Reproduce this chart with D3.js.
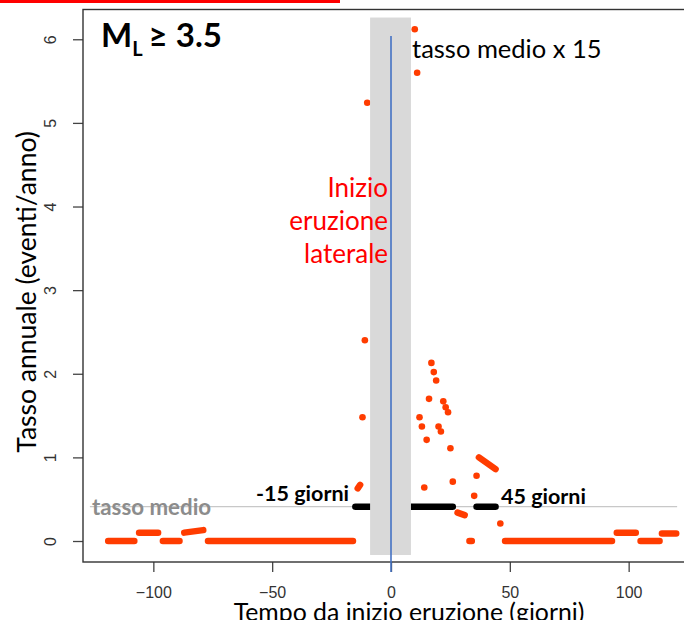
<!DOCTYPE html>
<html lang="it">
<head>
<meta charset="utf-8">
<script src="https://cdn.jsdelivr.net/npm/d3@7"></script>
<style>
  body { margin: 0; background: #fff; }
  svg { display: block; }
</style>
</head>
<body>
<script>
const W = 684, H = 620;

// red runs of daily points (start day, end day, value at start, value at end)
const runStart   = [-119, -106, -96, -87, -77, -14, 28, 33, 37, 48, 95, 105, 114];
const runEnd     = [-108,  -98, -89, -79, -16, -13, 31, 34, 44, 93, 103, 113, 120];
const runFromVal = [0, 0.10, 0, 0.10, 0, 0.63, 0.34, 0, 1.00, 0, 0.10, 0, 0.09];
const runToVal   = [0, 0.10, 0, 0.13, 0, 0.67, 0.31, 0, 0.86, 0, 0.10, 0, 0.09];

// isolated red points
const pointDay = [-12, -11, -10, 10, 11, 12, 13, 14, 15, 16, 17, 18, 19, 20, 21, 22, 23, 24, 25, 26, 35, 36, 46];
const pointVal = [1.48, 2.40, 5.24, 6.12, 5.60, 1.48, 1.37, 0.64, 1.21, 1.70, 2.13, 2.02, 1.92, 1.37, 1.31, 1.67, 1.60, 1.54, 1.11, 0.71, 0.54, 0.78, 0.21];

// black runs at mean rate
const blackStart = [-15, 36];
const blackEnd   = [26, 44];
const avgRate = 0.41;

const xTicks = [-100, -50, 0, 50, 100];
const yTicks = [0, 1, 2, 3, 4, 5, 6];

const red = "#ff3c00";
const calibri = "Lato, 'Open Sans', sans-serif";

const svg = d3.select("body").append("svg")
    .attr("width", W)
    .attr("height", H);

let x = d3.scaleLinear().domain([-129.6, 129.6]).range([83, 699]);
let y = d3.scaleLinear().domain([-0.251, 6.356]).range([562, 9.5]);

// red strip at the top
svg.append("rect")
    .attr("x", 0).attr("y", 0)
    .attr("width", 340).attr("height", 3)
    .attr("fill", "#ff0000");

// axes
let xAxis = svg.append("g")
    .attr("transform", "translate(0," + y.range()[0] + ")")
    .call(d3.axisBottom(x).tickValues(xTicks).tickSize(10).tickPadding(15));
xAxis.select(".domain").remove();
xAxis.selectAll("line").attr("stroke", "#444").attr("stroke-width", 1.3);
xAxis.selectAll("text")
    .attr("font-family", "'Liberation Sans', Arial, sans-serif")
    .attr("font-size", 16)
    .attr("fill", "#333");

let yAxis = svg.append("g")
    .attr("transform", "translate(" + x.range()[0] + ",0)")
    .call(d3.axisLeft(y).tickValues(yTicks).tickSize(10).tickFormat(d3.format("d")));
yAxis.select(".domain").remove();
yAxis.selectAll("line").attr("stroke", "#444").attr("stroke-width", 1.3);
yAxis.selectAll("text")
    .attr("x", null).attr("dy", null)
    .attr("transform", "translate(-27,0) rotate(-90)")
    .attr("text-anchor", "middle")
    .attr("font-family", "'Liberation Sans', Arial, sans-serif")
    .attr("font-size", 16)
    .attr("fill", "#333");

// frame
svg.append("rect")
    .attr("x", x.range()[0]).attr("y", y.range()[1])
    .attr("width", x.range()[1] - x.range()[0])
    .attr("height", y.range()[0] - y.range()[1])
    .attr("fill", "none")
    .attr("stroke", "#333")
    .attr("stroke-width", 1.4);

// mean rate line
svg.append("line")
    .attr("x1", x(-126.7)).attr("x2", x(120.4))
    .attr("y1", y(avgRate)).attr("y2", y(avgRate))
    .attr("stroke", "#c8c8c8")
    .attr("stroke-width", 1.2);

// black runs
svg.selectAll(".black")
    .data(blackStart)
    .join("line")
    .attr("class", "black")
    .attr("x1", d => x(d))
    .attr("x2", (d, i) => x(blackEnd[i]))
    .attr("y1", y(avgRate)).attr("y2", y(avgRate))
    .attr("stroke", "#000")
    .attr("stroke-width", 6.5)
    .attr("stroke-linecap", "round");

// red runs
svg.selectAll(".run")
    .data(runStart)
    .join("line")
    .attr("class", "run")
    .attr("x1", d => x(d))
    .attr("x2", (d, i) => x(runEnd[i]))
    .attr("y1", (d, i) => y(runFromVal[i]))
    .attr("y2", (d, i) => y(runToVal[i]))
    .attr("stroke", red)
    .attr("stroke-width", 6.5)
    .attr("stroke-linecap", "round");

// red points
svg.selectAll(".pt")
    .data(pointDay)
    .join("circle")
    .attr("class", "pt")
    .attr("cx", d => x(d))
    .attr("cy", (d, i) => y(pointVal[i]))
    .attr("r", 3.3)
    .attr("fill", red);

// grey band around eruption start
svg.append("rect")
    .attr("x", x(-8.8)).attr("y", y(6.26))
    .attr("width", x(8.4) - x(-8.8))
    .attr("height", y(-0.167) - y(6.26))
    .attr("fill", "#d9d9d9");

// eruption start line
svg.append("line")
    .attr("x1", x(0)).attr("x2", x(0))
    .attr("y1", y(6.04)).attr("y2", 572)
    .attr("stroke", "#4472c4")
    .attr("stroke-width", 1.6);

// texts
let title = svg.append("text")
    .attr("x", 101).attr("y", 47)
    .attr("font-family", calibri)
    .attr("font-weight", "bold")
    .attr("font-size", 33)
    .attr("fill", "#000");
title.append("tspan").text("M");
title.append("tspan").attr("dy", 9).attr("font-size", 20).text("L");
title.append("tspan").attr("dy", -9).attr("dx", 6).text("≥ 3.5");

svg.append("text")
    .attr("x", 412).attr("y", 58)
    .attr("font-family", calibri)
    .attr("font-size", 25.5)
    .text("tasso medio x 15");

let lat = svg.append("text")
    .attr("text-anchor", "end")
    .attr("font-family", calibri)
    .attr("font-size", 26)
    .attr("fill", "#ff0000");
["Inizio", "eruzione", "laterale"].forEach(function(s, i) {
    lat.append("tspan").attr("x", 388).attr("y", 197 + i * 33).text(s);
});

svg.append("text")
    .attr("x", 92).attr("y", 515)
    .attr("font-family", calibri)
    .attr("font-weight", "bold")
    .attr("font-size", 22.3)
    .attr("fill", "#8c8c8c")
    .text("tasso medio");

svg.append("text")
    .attr("x", 349).attr("y", 501)
    .attr("text-anchor", "end")
    .attr("font-family", calibri)
    .attr("font-weight", "bold")
    .attr("font-size", 21.5)
    .text("-15 giorni");

svg.append("text")
    .attr("x", 501).attr("y", 504)
    .attr("font-family", calibri)
    .attr("font-weight", "bold")
    .attr("font-size", 21.5)
    .text("45 giorni");

// axis titles
svg.append("text")
    .attr("x", 409).attr("y", 621)
    .attr("text-anchor", "middle")
    .attr("font-family", calibri)
    .attr("font-size", 24.8)
    .text("Tempo da inizio eruzione (giorni)");

svg.append("text")
    .attr("transform", "translate(36,292) rotate(-90)")
    .attr("text-anchor", "middle")
    .attr("font-family", calibri)
    .attr("font-size", 26.5)
    .text("Tasso annuale (eventi/anno)");
</script>
</body>
</html>
